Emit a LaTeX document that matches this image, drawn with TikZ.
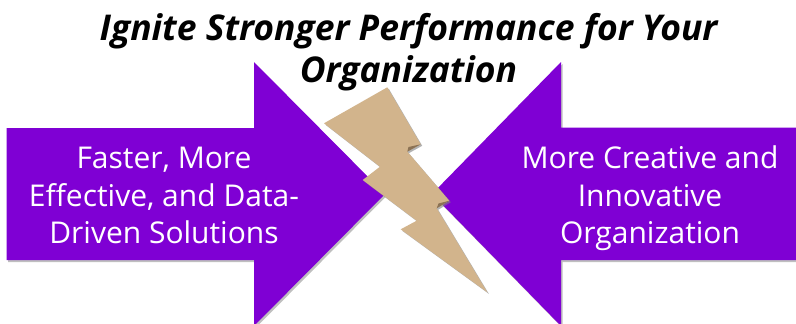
\documentclass[tikz,border=0pt]{standalone}
\usepackage{fontspec}
\setmainfont{Open Sans}
\usepackage{tikz}
\usetikzlibrary{shadows}
\definecolor{arrowpurple}{HTML}{7F00D4}
\definecolor{bolttan}{HTML}{D2B48C}
\definecolor{boltdark}{HTML}{7A6246}
\begin{document}
\begin{tikzpicture}[x=1pt,y=-1pt,
  bigarrow/.style={fill=arrowpurple, drop shadow={shadow xshift=1.5pt, shadow yshift=-2pt, opacity=.5}},
  arrowtext/.style={white, align=center, font=\fontsize{30}{37.5}\selectfont},
  bolt/.style={fill=bolttan, drop shadow={shadow xshift=1.5pt, shadow yshift=-1.5pt, opacity=.6}},
  boltshade/.style={fill=boltdark, opacity=.8}]
  \useasboundingbox [fill=white] (0,0) rectangle (796,324);
  % the two arrows
  \path [bigarrow] (6.5,128) -- (254,128) -- (254,62) -- (385,194) -- (254,326) -- (254,260) -- (6.5,260) -- cycle;
  \path [bigarrow] (796,127.5) -- (561,127.5) -- (561,62) -- (432,194) -- (561,326) -- (561,260) -- (796,260) -- cycle;
  % the bolt
  \path [bolt] (387.3,87.3) -- (324,123.3) -- (380,166.7) -- (362.7,180) -- (416.7,220.7) -- (400.7,229.3) -- (487.3,292.3)
    -- (436.7,208.3) -- (449.3,200.7) -- (407.3,151.7) -- (420.7,144.3) -- cycle;
  \path [boltshade] (420.7,144.3) -- (407.3,151.7) -- (408.5,147) -- cycle;
  \path [boltshade] (449.3,200.7) -- (436.7,208.3) -- (438.5,203.5) -- cycle;
  % texts
  \node (title) at (408.5,52) [align=center, font=\fontsize{35.5}{42}\selectfont\bfseries\itshape] {Ignite Stronger Performance for Your\\Organization};
  \node (lefttext) at (164,195.5) [arrowtext] {Faster, More\\Effective, and Data-\\Driven Solutions};
  \node (righttext) at (650,198.5) [arrowtext] {More Creative and\\Innovative\\Organization};
\end{tikzpicture}
\end{document}
